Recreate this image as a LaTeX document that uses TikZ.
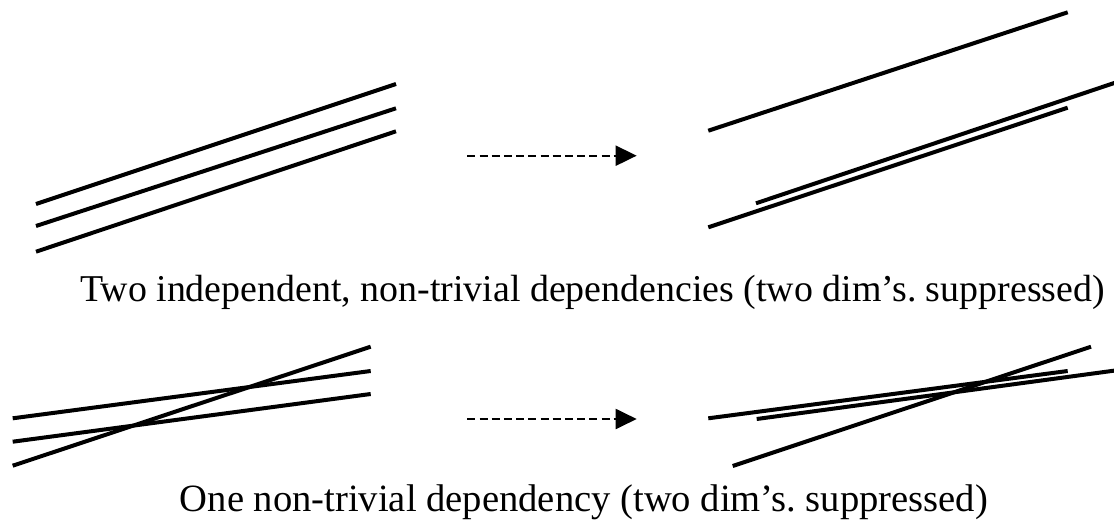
\documentclass[tikz,border=0pt]{standalone}
\usepackage{fontspec}
\setmainfont{Liberation Serif}
\usetikzlibrary{arrows.meta}
\begin{document}
\frenchspacing
\begin{tikzpicture}[x=1pt,y=-1pt,
  ln/.style={line width=4pt},
  darrow/.style={line width=2pt,dash pattern=on 8pt off 4.2pt,-{Triangle[length=21pt,width=20pt]}},
  lbl/.style={anchor=base,inner sep=0pt,font=\fontsize{38.6}{46}\selectfont}]
\useasboundingbox (0,0) rectangle (1114,525);
% top left: three parallel lines
\draw[ln] (36,204) -- (396,84);
\draw[ln] (36,226) -- (396,108.3);
\draw[ln] (36,251.7) -- (396,131.3);
% top right
\draw[ln] (708.3,130.7) -- (1067.7,12.3);
\draw[ln] (708.3,227.3) -- (1067.7,107.7);
\draw[ln] (756,203.3) -- (1116,82.4);
% arrows
\coordinate (a1s) at (467.3,155.7);
\coordinate (a1e) at (636.7,155.7);
\draw[darrow] (a1s) -- (a1e);
\coordinate (a2s) at (467.3,419);
\coordinate (a2e) at (636.7,419);
\draw[darrow] (a2s) -- (a2e);
% labels
\node[lbl,anchor=base east,font=\fontsize{37.9}{46}\selectfont] (t1) at (1105,301.7) {Two independent, non-trivial dependencies (two dim’s. suppressed)};
\node[lbl] (t2) at (584,511.7) {One non-trivial dependency (two dim’s. suppressed)};
% bottom left
\draw[ln] (12.7,465.7) -- (370.7,346.7);
\draw[ln] (12.7,418.3) -- (370.7,371);
\draw[ln] (12.7,441.7) -- (370.7,394);
% bottom right
\draw[ln] (732.7,466) -- (1091,346.7);
\draw[ln] (708.3,418.3) -- (1067.7,371);
\draw[ln] (756.7,419) -- (1116,370.4);
\end{tikzpicture}
\end{document}
